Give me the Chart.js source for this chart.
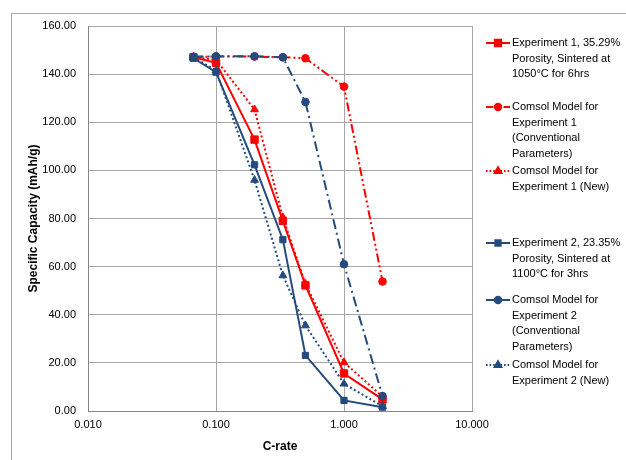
<!DOCTYPE html>
<html>
<head>
<meta charset="utf-8">
<script src="https://cdn.jsdelivr.net/npm/chart.js@4/dist/chart.umd.min.js"></script>
<style>
  html, body { margin: 0; padding: 0; background: #ffffff; overflow: hidden; }
  #wrap { position: relative; width: 626px; height: 460px; }
  #frame { position: absolute; left: 11px; top: 13px; width: 700px; height: 500px;
           border-left: 1px solid #a6a6a6; border-top: 1px solid #a6a6a6; }
  canvas { position: absolute; left: 0; top: 0; }
</style>
</head>
<body>
<div id="wrap">
  <div id="frame"></div>
  <canvas id="c" width="626" height="460"></canvas>
</div>
<script>
// ---- data ----
const cRates = [0.0667, 0.1, 0.2, 0.333, 0.5, 1, 2];
const exp1 = [147.0, 144.7, 112.8, 79.0, 52.2, 15.6, 4.8];
const comsol1Conv = [147.2, 147.3, 147.3, 147.0, 146.6, 134.8, 53.8];
const comsol1New = [147.0, 146.0, 125.3, 80.5, 52.8, 20.2, 6.0];
const exp2 = [146.6, 140.8, 102.3, 71.2, 23.1, 4.4, 1.6];
const comsol2Conv = [147.2, 147.4, 147.4, 147.0, 128.4, 61.0, 6.2];
const comsol2New = [147.0, 141.5, 96.0, 56.3, 35.5, 11.3, 2.0];

const seriesLabels = [
  ["Experiment 1, 35.29%", "Porosity, Sintered at", "1050°C for 6hrs"],
  ["Comsol Model for", "Experiment 1", "(Conventional", "Parameters)"],
  ["Comsol Model for", "Experiment 1 (New)"],
  ["Experiment 2, 23.35%", "Porosity, Sintered at", "1100°C for 3hrs"],
  ["Comsol Model for", "Experiment 2", "(Conventional", "Parameters)"],
  ["Comsol Model for", "Experiment 2 (New)"]
];
const xTickValues = [0.01, 0.1, 1, 10];
const xTickLabels = ["0.010", "0.100", "1.000", "10.000"];
const yTickValues = [0, 20, 40, 60, 80, 100, 120, 140, 160];
const xTitle = "C-rate";
const yTitle = "Specific Capacity (mAh/g)";

// ---- styling ----
const RED = "#ff0000";
const BLUE = "#244b7d";
const FONT = "'Liberation Sans', Arial, sans-serif";

function pts(arr) { return arr.map((v, i) => ({ x: cRates[i], y: v })); }

const seriesValues = [exp1, comsol1Conv, comsol1New, exp2, comsol2Conv, comsol2New];
const styles = [
  { color: RED,  dash: [],                 style: "rect",     radius: 5.2, width: 2 },
  { color: RED,  dash: [9, 3, 2, 3, 2, 3], style: "circle",   radius: 3.8, width: 2 },
  { color: RED,  dash: [2, 2.5],           style: "triangle", radius: 4.5, width: 2 },
  { color: BLUE, dash: [],                 style: "rect",     radius: 4.4, width: 2 },
  { color: BLUE, dash: [10, 4, 2, 4],      style: "circle",   radius: 3.8, width: 2 },
  { color: BLUE, dash: [2, 2.5],           style: "triangle", radius: 4.5, width: 2 }
];

const datasets = seriesValues.map((vals, i) => ({
  label: seriesLabels[i].join(" "),
  data: pts(vals),
  borderColor: styles[i].color,
  backgroundColor: styles[i].color,
  borderWidth: styles[i].width,
  borderDash: styles[i].dash,
  pointStyle: styles[i].style,
  pointRadius: styles[i].radius,
  pointBorderWidth: 1,
  pointBackgroundColor: styles[i].color,
  pointBorderColor: styles[i].color,
  tension: 0,
  fill: false,
  order: seriesValues.length - i
}));

const legendYs = [43, 107, 171, 243, 300, 365];
const legendPlugin = {
  id: "sideLegend",
  afterDraw(chart) {
    const ctx = chart.ctx;
    ctx.save();
    chart.data.datasets.forEach((ds, i) => {
      const y0 = legendYs[i];
      const st = styles[i];
      ctx.save();
      ctx.strokeStyle = st.color;
      ctx.lineWidth = st.width;
      ctx.setLineDash(st.dash.length ? st.dash.map(d => d * 0.8) : []);
      ctx.beginPath();
      ctx.moveTo(486, y0);
      ctx.lineTo(510, y0);
      ctx.stroke();
      ctx.setLineDash([]);
      ctx.fillStyle = st.color;
      Chart.helpers.drawPoint(ctx, {
        pointStyle: st.style, radius: st.radius * 0.85, borderWidth: 1, rotation: 0
      }, 498, y0);
      ctx.restore();
      ctx.fillStyle = "#000000";
      ctx.font = "11px " + FONT;
      ctx.textBaseline = "middle";
      ctx.textAlign = "left";
      seriesLabels[i].forEach((line, k) => {
        ctx.fillText(line, 512, y0 + k * 15.5);
      });
    });
    ctx.restore();
  }
};

new Chart(document.getElementById("c"), {
  type: "line",
  data: { datasets },
  options: {
    responsive: false,
    devicePixelRatio: 1,
    animation: false,
    layout: { padding: { left: 0, top: 26, right: 154, bottom: 0 } },
    plugins: { legend: { display: false }, tooltip: { enabled: false } },
    elements: { line: { borderCapStyle: "butt" } },
    scales: {
      x: {
        type: "logarithmic",
        min: 0.01,
        max: 10,
        afterBuildTicks: (scale) => { scale.ticks = xTickValues.map(v => ({ value: v })); },
        afterFit: (scale) => { scale.height = 49; },
        ticks: {
          autoSkip: false,
          maxRotation: 0,
          padding: 7,
          color: "#000000",
          font: { family: FONT, size: 11 },
          callback: (v) => { const k = xTickValues.indexOf(v); return k >= 0 ? xTickLabels[k] : ""; }
        },
        grid: { color: "#a6a6a6", lineWidth: 1, drawTicks: false, tickLength: 0 },
        border: { color: "#868686", width: 1 },
        title: {
          display: true, text: xTitle, color: "#000000",
          font: { family: FONT, size: 12, weight: "bold" },
          padding: { top: 0, bottom: 6 }
        }
      },
      y: {
        type: "linear",
        min: 0,
        max: 160,
        afterBuildTicks: (scale) => { scale.ticks = yTickValues.map(v => ({ value: v })); },
        afterFit: (scale) => { scale.width = 88; },
        ticks: {
          padding: 12,
          color: "#000000",
          font: { family: FONT, size: 11 },
          callback: (v) => Number(v).toFixed(2)
        },
        grid: { color: "#a6a6a6", lineWidth: 1, drawTicks: false, tickLength: 0 },
        border: { color: "#868686", width: 1 },
        title: {
          display: true, text: yTitle, color: "#000000",
          font: { family: FONT, size: 12, weight: "bold" },
          padding: { top: 26, bottom: 0 }
        }
      }
    }
  },
  plugins: [legendPlugin]
});
</script>
</body>
</html>
